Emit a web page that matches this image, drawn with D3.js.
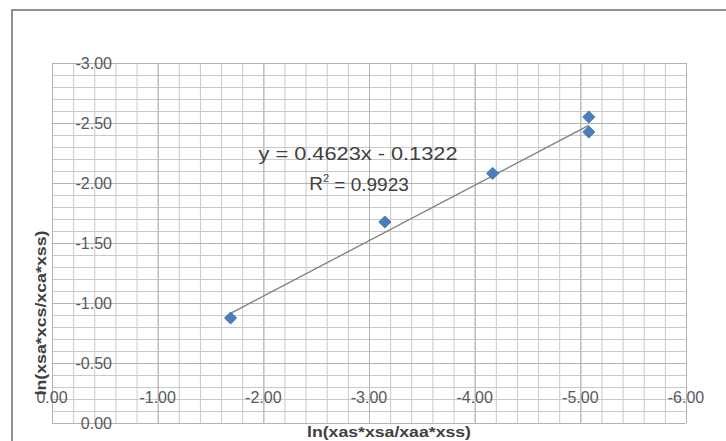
<!DOCTYPE html>
<html><head><meta charset="utf-8">
<script src="https://cdn.jsdelivr.net/npm/d3@7"></script>
<style>
html,body{margin:0;padding:0;background:#fff;}
svg{display:block;font-family:"Liberation Sans",Arial,sans-serif;}
</style></head>
<body>
<svg id="chart" width="726" height="441"></svg>
<script>
// ---- data ----
const xValues = [-1.69, -3.15, -4.17, -5.08, -5.08];
const yValues = [-0.875, -1.675, -2.08, -2.425, -2.55];
const slope = 0.4623;
const intercept = -0.1322;
const equationLabel = "y = 0.4623x - 0.1322";
const r2Label = "0.9923";
const xTicks = [0, -1, -2, -3, -4, -5, -6];
const yTicks = [0, -0.5, -1, -1.5, -2, -2.5, -3];
const xTitle = "ln(xas*xsa/xaa*xss)";
const yTitle = "ln(xsa*xcs/xca*xss)";

(function () {
const svg = d3.select("#chart");
const W = 726, H = 441;
const pLeft = 52, pRight = 686, pTop = 63, pBottom = 423;

const x = d3.scaleLinear().domain([0, -6]).range([pLeft, pRight]);
const y = d3.scaleLinear().domain([0, -3]).range([pBottom, pTop]);

// outer chart frame
svg.append("path").attr("d", `M12,${H+2} L12,10 L${W+2},10`)
  .attr("fill", "none").attr("stroke", "#8f8f8f").attr("stroke-width", 2);

// minor gridlines
const xMinor = d3.range(0, -6.001, -0.2);
const yMinor = d3.range(0, -3.001, -0.1);
svg.append("g").attr("transform", `translate(0,${pBottom})`)
  .call(d3.axisBottom(x).tickValues(xMinor).tickSize(-(pBottom - pTop)).tickFormat(""))
  .call(g => g.select(".domain").remove())
  .call(g => g.selectAll("line").attr("stroke", "#c9c9c9").attr("stroke-width", 1));
svg.append("g").attr("transform", `translate(${pLeft},0)`)
  .call(d3.axisLeft(y).tickValues(yMinor).tickSize(-(pRight - pLeft)).tickFormat(""))
  .call(g => g.select(".domain").remove())
  .call(g => g.selectAll("line").attr("stroke", "#c9c9c9").attr("stroke-width", 1));

// major gridlines
svg.append("g").attr("transform", `translate(0,${pBottom})`)
  .call(d3.axisBottom(x).tickValues(xTicks).tickSize(-(pBottom - pTop)).tickFormat(""))
  .call(g => g.select(".domain").remove())
  .call(g => g.selectAll("line").attr("stroke", "#b3b3b3").attr("stroke-width", 1));
svg.append("g").attr("transform", `translate(${pLeft},0)`)
  .call(d3.axisLeft(y).tickValues(yTicks).tickSize(-(pRight - pLeft)).tickFormat(""))
  .call(g => g.select(".domain").remove())
  .call(g => g.selectAll("line").attr("stroke", "#b3b3b3").attr("stroke-width", 1));

// tick labels (ASCII hyphen minus as in the reference)
const fmt = d => d3.format(".2f")(d).replace("\u2212", "-");
svg.append("g").selectAll("text").data(yTicks).join("text")
  .attr("x", 112).attr("y", d => y(d)).attr("dy", "0.35em")
  .attr("text-anchor", "end").attr("font-size", 16).attr("fill", "#595959")
  .text(d => fmt(d));
svg.append("g").selectAll("text").data(xTicks).join("text")
  .attr("x", d => x(d)).attr("y", 397).attr("dy", "0.35em")
  .attr("text-anchor", "middle").attr("font-size", 16).attr("fill", "#595959")
  .text(d => fmt(d));

// trendline
const xr = d3.extent(xValues);
svg.append("line")
  .attr("x1", x(xr[1])).attr("y1", y(slope * xr[1] + intercept))
  .attr("x2", x(xr[0])).attr("y2", y(slope * xr[0] + intercept))
  .attr("stroke", "#7f7f7f").attr("stroke-width", 1.3);

// markers
const diamond = d3.symbol().type(d3.symbolDiamond2).size(95);
svg.append("g").selectAll("path").data(xValues.map((v, i) => [v, yValues[i]])).join("path")
  .attr("d", diamond)
  .attr("transform", d => `translate(${x(d[0])},${y(d[1])})`)
  .attr("fill", "#4a7ebb").attr("stroke", "#3f6fa8").attr("stroke-width", 0.8);

// equation
svg.append("text").attr("x", 358).attr("y", 153).attr("dy", "0.35em")
  .attr("text-anchor", "middle").attr("font-size", 19).attr("fill", "#404040")
  .attr("textLength", 199).attr("lengthAdjust", "spacingAndGlyphs")
  .text(equationLabel);
const r2 = svg.append("text").attr("x", 359).attr("y", 183).attr("dy", "0.35em")
  .attr("text-anchor", "middle").attr("font-size", 19).attr("fill", "#404040");
r2.append("tspan").text("R");
r2.append("tspan").attr("font-size", 11).attr("dy", "-0.7em").text("2");
r2.append("tspan").attr("dy", "0.45em").text(" = " + r2Label);

// axis titles
svg.append("text").attr("x", 389).attr("y", 432).attr("dy", "0.35em")
  .attr("text-anchor", "middle").attr("font-size", 15).attr("font-weight", "bold")
  .attr("fill", "#404040").attr("textLength", 164).attr("lengthAdjust", "spacingAndGlyphs")
  .text(xTitle);
svg.append("text").attr("transform", "translate(41,313) rotate(-90)").attr("dy", "0.35em")
  .attr("text-anchor", "middle").attr("font-size", 15).attr("font-weight", "bold")
  .attr("fill", "#404040").attr("textLength", 165).attr("lengthAdjust", "spacingAndGlyphs")
  .text(yTitle);
})();
</script>
</body></html>
